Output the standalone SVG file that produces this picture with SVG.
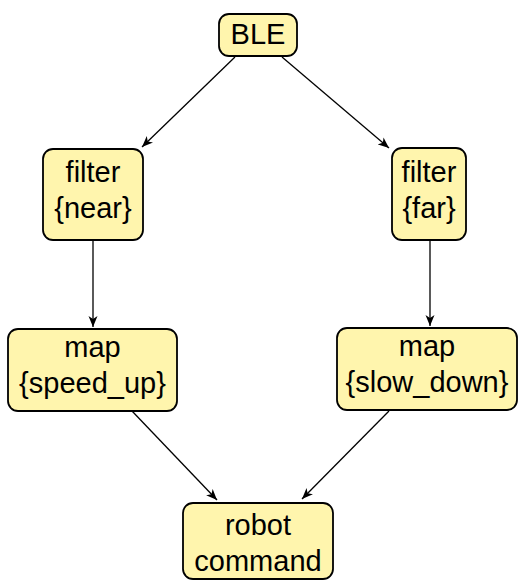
<svg xmlns="http://www.w3.org/2000/svg" width="518" height="581" viewBox="0 0 518 581">
<style>
.node rect{fill:#fff5ad;stroke:#000;stroke-width:1.8}
.node text{font-family:"Liberation Sans",Arial,sans-serif;font-size:29px;fill:#000;text-anchor:middle}
.edges line{stroke:#000;stroke-width:1.3;marker-end:url(#arr)}
</style>
<defs>
<marker id="arr" markerUnits="userSpaceOnUse" markerWidth="12" markerHeight="10" refX="11" refY="5" orient="auto">
<path d="M0,0.5 L11,5 L0,9.5 L3,5 z" fill="#000"/>
</marker>
</defs>
<g class="edges">
<line x1="235" y1="57" x2="142" y2="147"/>
<line x1="282" y1="57" x2="389" y2="148"/>
<line x1="93" y1="240" x2="93" y2="327"/>
<line x1="430" y1="240" x2="430" y2="326"/>
<line x1="132" y1="411" x2="217" y2="500"/>
<line x1="389" y1="411" x2="302" y2="499"/>
</g>
<g id="ble" class="node"><rect x="219" y="14" width="78" height="42" rx="10"/><text x="258" y="44">BLE</text></g>
<g id="filter-near" class="node"><rect x="43" y="149" width="100" height="91" rx="10"/><text x="93" y="182">filter</text><text x="93" y="218">{near}</text></g>
<g id="filter-far" class="node"><rect x="392" y="148" width="74" height="92" rx="10"/><text x="429" y="182">filter</text><text x="429" y="218">{far}</text></g>
<g id="map-speed" class="node"><rect x="8" y="329" width="169" height="82" rx="10"/><text x="92.5" y="357">map</text><text x="92.5" y="393">{speed_up}</text></g>
<g id="map-slow" class="node"><rect x="337" y="328" width="180" height="82" rx="10"/><text x="427" y="356">map</text><text x="427" y="392">{slow_down}</text></g>
<g id="robot" class="node"><rect x="183" y="503" width="150" height="76" rx="10"/><text x="258" y="535">robot</text><text x="258" y="571">command</text></g>
</svg>
